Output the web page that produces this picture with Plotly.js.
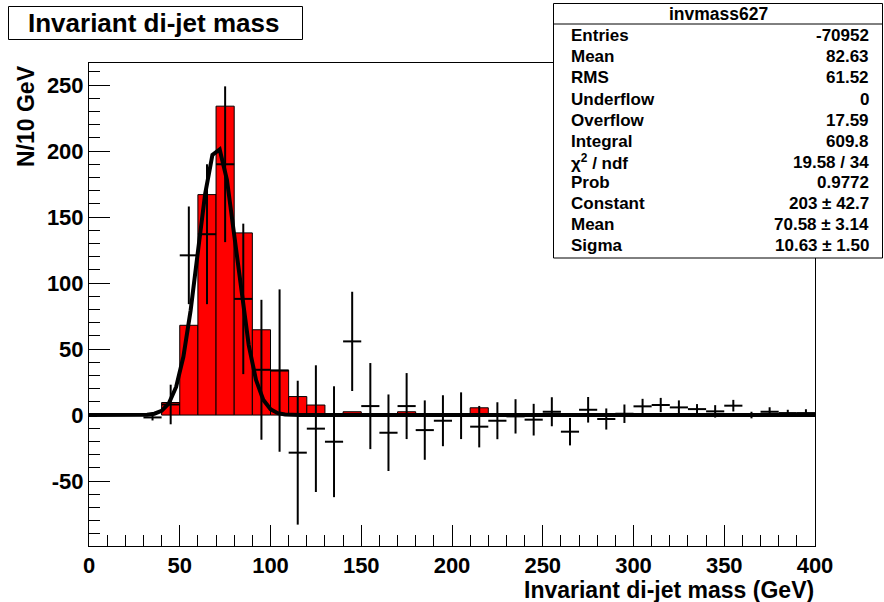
<!DOCTYPE html>
<html>
<head>
<meta charset="utf-8">
<script src="https://cdn.plot.ly/plotly-3.0.1.min.js"></script>
<style>html,body{margin:0;padding:0;background:#fff;}#chart{width:884px;height:602px;}</style>
</head>
<body>
<div id="chart"></div>
<script>
// Signal histogram (red filled), bin centres in GeV
var histX = [45, 55, 65, 75, 85, 95, 105, 115, 125, 145, 175, 215, 295, 365, 385, 395];
var histY = [9.5, 68, 167, 234, 138, 64.6, 34, 14, 7.6, 2.5, 2.5, 5.5, 1, 1, 1, 0.8];

// Data points with errors
var dataX = [35, 45, 55, 65, 75, 85, 95, 105, 115, 125, 135, 145, 155, 165, 175, 185, 195, 205, 215, 225,
             235, 245, 255, 265, 275, 285, 295, 305, 315, 325, 335, 345, 355, 365, 375, 385, 395];
var dataY = [-1.8, 8, 121, 137, 190, 88, 34.3, 33.7, -28.5, -10.3, -20.2, 55.8, 6.8, -13.4, 6.8, -11.4, -4.3, -0.5, -8.8, -4.3,
             -1, -3.5, 2.5, -12.6, 4, -3, 1, 6.6, 7.6, 5.8, 4.5, 2.8, 7.1, 0, 2.5, 1.5, 1.5];
var dataErr = [2.3, 15, 37, 53, 59, 57, 53, 61.5, 54.5, 48, 42, 37.6, 32.6, 29, 25, 22.5, 19.3, 17.7, 15.7, 14,
               13, 12, 11, 10.4, 9.7, 8, 7, 5.7, 5.4, 5.3, 3.8, 4.7, 4.4, 2.5, 3.4, 2.5, 2.9];
var binHalfWidth = dataX.map(function(){ return 5; });

// Gaussian fit curve as drawn
var fitX = [0, 28, 32, 36, 40, 44, 48, 52, 56, 60, 64, 68, 72, 76, 80, 84, 88, 92, 96, 100, 104, 108, 112, 116, 400];
var fitY = [0, 0.07, 0.28, 1.0, 3.2, 8.9, 21.3, 44.1, 79.3, 123.7, 167.6, 197.1, 201.2, 178.2, 137.1, 91.5, 53.0, 26.7, 11.6, 4.4, 1.45, 0.41, 0.1, 0, 0];

// Texts
var chartTitle = "Invariant di-jet mass";
var xTitle = "Invariant di-jet mass (GeV)";
var yTitle = "N/10 GeV";
var xTicks = [0, 50, 100, 150, 200, 250, 300, 350, 400];
var yTicks = [-50, 0, 50, 100, 150, 200, 250];
var statsName = "invmass627";
var statsLabels = ["Entries", "Mean", "RMS", "Underflow", "Overflow", "Integral", "χ<sup>2</sup> / ndf", "Prob", "Constant", "Mean", "Sigma"];
var statsValues = ["-70952", "82.63", "61.52", "0", "17.59", "609.8", "19.58 / 34", "0.9772", "203 ± 42.7", "70.58 ± 3.14", "10.63 ± 1.50"];

// Layout geometry (pixels)
var L = 89, R = 815, T = 63, B = 546;
function px(x) { return (x - L) / (R - L); }
function py(y) { return (B - y) / (B - T); }

var font = "Liberation Sans, Arial, Helvetica, sans-serif";

var traces = [
  {
    type: "bar", x: histX, y: histY, width: 10,
    marker: {color: "#ff0000", line: {color: "#000000", width: 1}},
    hoverinfo: "skip"
  },
  {
    type: "scatter", mode: "lines", x: fitX, y: fitY,
    line: {color: "#000000", width: 4},
    hoverinfo: "skip"
  },
  {
    type: "scatter", mode: "markers", x: dataX, y: dataY,
    marker: {size: 1, color: "#000000"},
    error_y: {type: "data", array: dataErr, visible: true, color: "#000000", thickness: 2, width: 0},
    error_x: {type: "data", array: binHalfWidth, visible: true, color: "#000000", thickness: 2, width: 0},
    hoverinfo: "skip"
  }
];

var annotations = [];
annotations.push({xref: "paper", yref: "paper", x: px(153), y: py(23), text: chartTitle, showarrow: false,
  xanchor: "center", yanchor: "middle", font: {family: font, size: 26, color: "#000", weight: "bold"}});
annotations.push({xref: "paper", yref: "paper", x: px(816), y: py(590), text: xTitle, showarrow: false,
  xanchor: "right", yanchor: "middle", font: {family: font, size: 23, color: "#000", weight: "bold"}});
annotations.push({xref: "paper", yref: "paper", x: px(26), y: py(63), text: yTitle, showarrow: false, textangle: -90,
  xanchor: "center", yanchor: "top", font: {family: font, size: 23, color: "#000", weight: "bold"}});
annotations.push({xref: "paper", yref: "paper", x: px(718), y: py(13.5), text: statsName, showarrow: false,
  xanchor: "center", yanchor: "middle", font: {family: font, size: 17.5, color: "#000", weight: "bold"}});
var rowY = [35.7, 56.7, 77.7, 99.3, 120, 141.7, 162, 182.7, 203.7, 224.3, 245];
for (var i = 0; i < statsLabels.length; i++) {
  annotations.push({xref: "paper", yref: "paper", x: px(569), y: py(rowY[i]), text: statsLabels[i], showarrow: false,
    xanchor: "left", yanchor: "middle", font: {family: font, size: 17, color: "#000", weight: "bold"}});
  annotations.push({xref: "paper", yref: "paper", x: px(871), y: py(rowY[i]), text: statsValues[i], showarrow: false,
    xanchor: "right", yanchor: "middle", font: {family: font, size: 17, color: "#000", weight: "bold"}});
}

var shapes = [
  {type: "rect", xref: "paper", yref: "paper", x0: px(8.5), x1: px(302.5), y0: py(39.5), y1: py(6.5),
   line: {color: "#000", width: 1}, fillcolor: "#fff", layer: "above"},
  {type: "rect", xref: "paper", yref: "paper", x0: px(553.5), x1: px(882.5), y0: py(258), y1: py(3.5),
   line: {color: "#000", width: 1}, fillcolor: "#fff", layer: "above"},
  {type: "line", xref: "paper", yref: "paper", x0: px(553.5), x1: px(882.5), y0: py(24), y1: py(24),
   line: {color: "#000", width: 1}, layer: "above"}
];

var layout = {
  width: 884, height: 602,
  margin: {l: L, r: 884 - R, t: T, b: 602 - B, pad: 0},
  paper_bgcolor: "#fff", plot_bgcolor: "#fff",
  showlegend: false,
  bargap: 0,
  xaxis: {
    range: [0, 400], tickvals: xTicks, ticktext: xTicks.map(String),
    ticks: "inside", ticklen: 21, tickwidth: 1, tickcolor: "#000",
    minor: {dtick: 10, ticks: "inside", ticklen: 11, tickwidth: 1, tickcolor: "#000", showgrid: false},
    showline: true, linecolor: "#000", linewidth: 1, mirror: true,
    showgrid: false, zeroline: false,
    tickfont: {family: font, size: 22, color: "#000", weight: "bold"}
  },
  yaxis: {
    range: [-99.2, 266.7], tickvals: yTicks, ticktext: yTicks.map(String),
    ticks: "inside", ticklen: 21, tickwidth: 1, tickcolor: "#000",
    minor: {dtick: 10, ticks: "inside", ticklen: 11, tickwidth: 1, tickcolor: "#000", showgrid: false},
    showline: true, linecolor: "#000", linewidth: 1, mirror: true,
    showgrid: false, zeroline: false,
    tickfont: {family: font, size: 22, color: "#000", weight: "bold"}
  },
  annotations: annotations,
  shapes: shapes
};

Plotly.newPlot("chart", traces, layout, {displayModeBar: false, staticPlot: true});
</script>
</body>
</html>
